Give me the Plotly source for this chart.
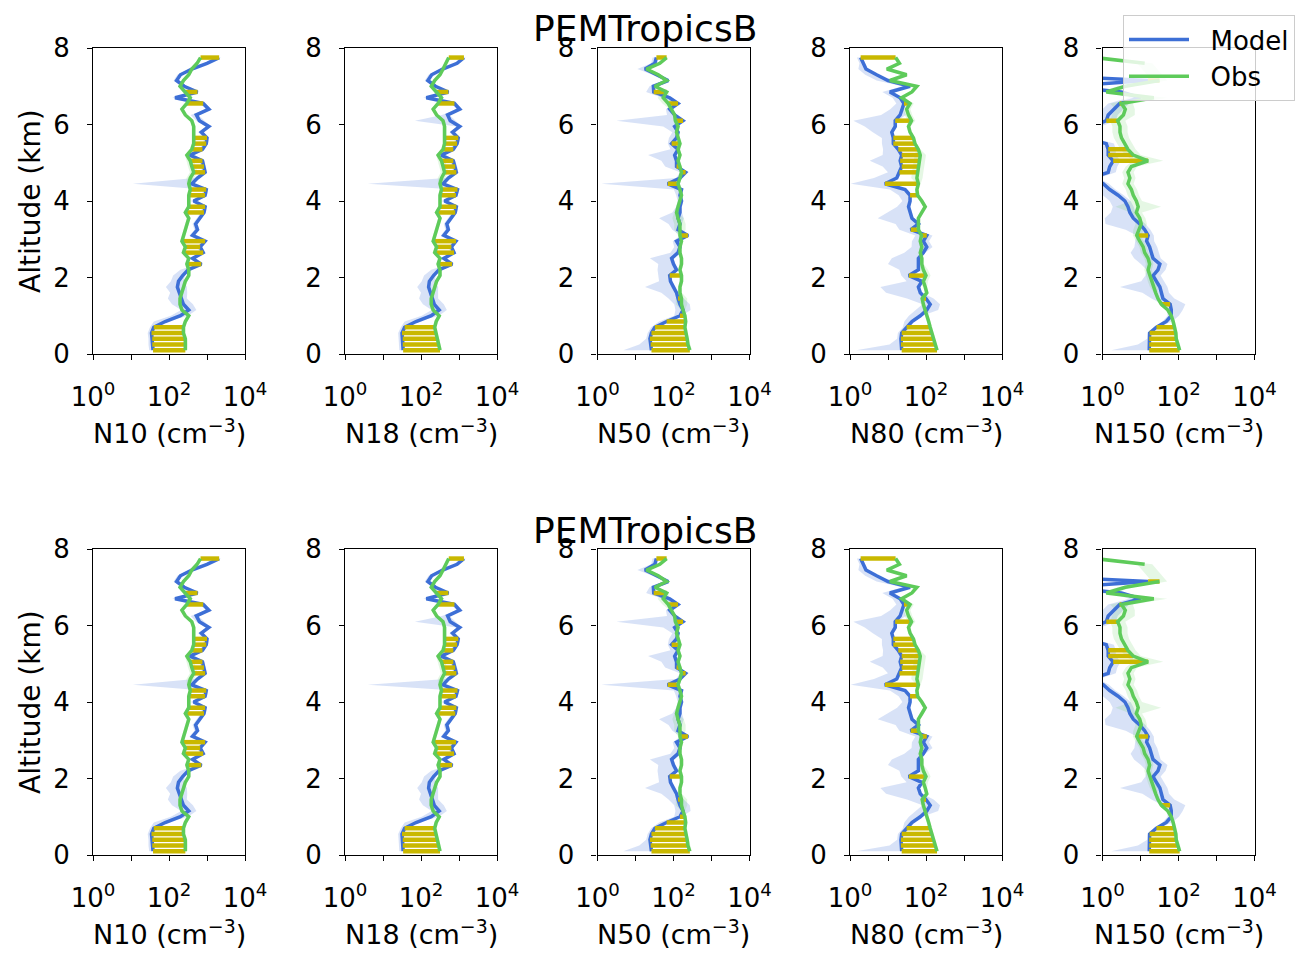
import plotly.graph_objects as go

# ---------------- data (log10 of number concentration, cm^-3) ----------------
ALT = [0.1, 0.25, 0.4, 0.55, 0.7, 0.85, 1.0, 1.15, 1.3, 1.45, 1.6, 1.75, 1.9, 2.05,
       2.2, 2.35, 2.5, 2.65, 2.8, 2.95, 3.1, 3.25, 3.4, 3.55, 3.7, 3.85, 4.0, 4.15,
       4.3, 4.45, 4.6, 4.75, 4.9, 5.05, 5.2, 5.35, 5.5, 5.65, 5.8, 5.95, 6.1, 6.25,
       6.4, 6.55, 6.7, 6.85, 7.0, 7.15, 7.3, 7.45, 7.6, 7.75]

PANEL_LABELS = ["N10", "N18", "N50", "N80", "N150"]
CAMPAIGN = "PEMTropicsB"
X_TICKVALS = [1, 10, 100, 1000, 10000]
X_TICKTEXT = ["10<sup>0</sup>", "", "10<sup>2</sup>", "", "10<sup>4</sup>"]
Y_TICKVALS = [0, 2, 4, 6, 8]

n10_model = [1.58, 1.56, 1.56, 1.54, 1.60, 1.90, 2.30, 2.52, 2.38, 2.32, 2.28, 2.22, 2.25, 2.36,
             2.50, 2.85, 2.62, 2.90, 2.82, 2.95, 2.62, 2.75, 2.70, 2.80, 2.92, 2.95, 2.65, 2.95,
             2.98, 2.60, 2.75, 2.95, 2.92, 2.88, 2.55, 2.88, 2.98, 3.00, 2.85, 3.05, 2.80, 2.72,
             3.05, 2.90, 2.16, 2.75, 2.40, 2.20, 2.30, 2.60, 3.00, 3.32]
n10_obs = [2.43, 2.44, 2.43, 2.38, 2.38, 2.43, 2.52, 2.34, 2.29, 2.29, 2.34, 2.38, 2.43, 2.52,
           2.52, 2.47, 2.52, 2.38, 2.43, 2.34, 2.38, 2.43, 2.47, 2.52, 2.43, 2.52, 2.52, 2.52,
           2.56, 2.52, 2.56, 2.65, 2.60, 2.56, 2.47, 2.60, 2.65, 2.65, 2.65, 2.65, 2.60, 2.43,
           2.34, 2.47, 2.56, 2.43, 2.29, 2.38, 2.52, 2.60, 2.74, 2.83]
n10_model_lo = [0.10, 0.10, 0.10, 0.10, 0.10, 0.30, 0.25, 0.20, 0.30, 0.35, 0.25, 0.30, 0.20, 0.25,
                0.20, 0.08, 0.08, 0.08, 0.08, 0.08, 0.08, 0.08, 0.08, 0.08, 0.08, 0.08, 0.08, 0.08,
                0.08, 1.55, 0.08, 0.08, 0.08, 0.08, 0.08, 0.08, 0.08, 0.08, 0.08, 0.08, 0.08, 0.15,
                0.08, 0.08, 0.08, 0.08, 0.08, 0.08, 0.08, 0.08, 0.08, 0.08]
n10_model_hi = [0.05, 0.05, 0.05, 0.05, 0.05, 0.05, 0.20, 0.20, 0.25, 0.15, 0.20, 0.25, 0.15, 0.05,
                0.05, 0.05, 0.05, 0.05, 0.05, 0.05, 0.05, 0.05, 0.05, 0.05, 0.05, 0.05, 0.05, 0.05,
                0.05, 0.05, 0.05, 0.05, 0.05, 0.05, 0.05, 0.05, 0.05, 0.05, 0.05, 0.05, 0.15, 0.05,
                0.05, 0.05, 0.05, 0.05, 0.05, 0.05, 0.05, 0.05, 0.05, 0.05]
n10_obs_sp = [0.05, 0.05, 0.05, 0.05, 0.05, 0.05, 0.05, 0.05, 0.05, 0.05, 0.05, 0.05, 0.05, 0.05,
              0.05, 0.05, 0.05, 0.05, 0.05, 0.05, 0.05, 0.05, 0.05, 0.05, 0.05, 0.05, 0.05, 0.05,
              0.05, 0.05, 0.10, 0.10, 0.10, 0.10, 0.05, 0.05, 0.05, 0.05, 0.05, 0.05, 0.05, 0.05,
              0.05, 0.05, 0.05, 0.05, 0.05, 0.05, 0.05, 0.05, 0.05, 0.05]
n10_bars = [0.1, 0.25, 0.4, 0.55, 0.7, 2.35, 2.65, 2.8, 2.95, 3.7, 3.85, 4.15, 4.3, 4.75,
            4.9, 5.05, 5.35, 5.5, 5.65, 6.55, 6.85, 7.75]

n18_model = [1.53, 1.52, 1.52, 1.50, 1.57, 1.87, 2.27, 2.48, 2.35, 2.30, 2.25, 2.20, 2.22, 2.33,
             2.47, 2.82, 2.60, 2.87, 2.80, 2.92, 2.60, 2.72, 2.68, 2.78, 2.90, 2.93, 2.62, 2.92,
             2.96, 2.58, 2.72, 2.93, 2.90, 2.85, 2.53, 2.85, 2.95, 2.98, 2.83, 3.02, 2.77, 2.70,
             3.02, 2.88, 2.14, 2.72, 2.38, 2.18, 2.28, 2.57, 2.95, 3.13]
n18_obs = [2.50, 2.46, 2.43, 2.38, 2.36, 2.40, 2.48, 2.32, 2.27, 2.27, 2.32, 2.36, 2.41, 2.50,
           2.50, 2.45, 2.50, 2.36, 2.41, 2.32, 2.36, 2.41, 2.45, 2.50, 2.41, 2.50, 2.50, 2.50,
           2.54, 2.50, 2.54, 2.62, 2.58, 2.54, 2.45, 2.58, 2.62, 2.62, 2.62, 2.62, 2.58, 2.41,
           2.32, 2.45, 2.54, 2.41, 2.27, 2.36, 2.50, 2.58, 2.65, 2.73]
n18_model_lo = [0.10, 0.10, 0.10, 0.10, 0.10, 0.30, 0.25, 0.20, 0.30, 0.35, 0.25, 0.30, 0.20, 0.25,
                0.20, 0.08, 0.08, 0.08, 0.08, 0.08, 0.08, 0.08, 0.08, 0.08, 0.08, 0.08, 0.08, 0.08,
                0.08, 1.98, 0.08, 0.08, 0.08, 0.08, 0.08, 0.08, 0.08, 0.08, 0.08, 0.08, 0.93, 0.15,
                0.08, 0.08, 0.08, 0.08, 0.08, 0.08, 0.08, 0.08, 0.08, 0.08]
n18_model_hi = [0.05, 0.05, 0.05, 0.05, 0.05, 0.05, 0.20, 0.20, 0.25, 0.15, 0.20, 0.25, 0.15, 0.05,
                0.05, 0.05, 0.05, 0.05, 0.05, 0.05, 0.05, 0.05, 0.05, 0.05, 0.05, 0.05, 0.05, 0.05,
                0.05, 0.05, 0.05, 0.05, 0.05, 0.05, 0.05, 0.05, 0.05, 0.05, 0.05, 0.05, 0.15, 0.05,
                0.05, 0.05, 0.05, 0.05, 0.05, 0.05, 0.05, 0.05, 0.05, 0.05]
n18_obs_sp = n10_obs_sp
n18_bars = [0.1, 0.25, 0.4, 0.55, 0.7, 2.35, 2.65, 2.8, 2.95, 3.7, 3.85, 4.15, 4.3, 4.75,
            4.9, 5.05, 5.35, 5.5, 5.65, 6.55, 6.85, 7.75]

n50_model = [1.42, 1.40, 1.38, 1.42, 1.51, 1.82, 2.17, 2.25, 2.17, 2.12, 2.08, 2.00, 1.92, 1.90,
             2.08, 2.00, 1.95, 2.12, 2.17, 2.08, 2.38, 2.12, 2.17, 2.12, 2.17, 2.17, 2.21, 2.17,
             2.21, 1.85, 2.17, 2.32, 2.08, 2.08, 2.03, 2.12, 1.95, 2.08, 2.12, 2.03, 2.25, 2.03,
             1.90, 2.12, 1.90, 1.48, 1.47, 1.86, 1.55, 1.25, 1.51, 1.55]
n50_obs = [2.43, 2.38, 2.36, 2.32, 2.30, 2.32, 2.30, 2.25, 2.21, 2.21, 2.17, 2.17, 2.21, 2.21,
           2.17, 2.21, 2.21, 2.17, 2.17, 2.21, 2.17, 2.17, 2.17, 2.12, 2.08, 2.12, 2.17, 2.21,
           2.17, 2.12, 2.17, 2.21, 2.17, 2.12, 2.17, 2.12, 2.17, 2.12, 2.08, 2.12, 2.05, 2.03,
           1.95, 1.86, 1.73, 1.82, 1.51, 1.82, 1.60, 1.29, 1.64, 1.82]
n50_model_lo = [0.74, 0.30, 0.10, 0.10, 0.10, 0.20, 0.15, 0.20, 0.15, 0.25, 0.40, 0.75, 0.30, 0.30,
                0.50, 0.40, 0.57, 0.20, 0.15, 0.10, 0.20, 0.15, 0.30, 0.50, 0.20, 0.10, 0.10, 0.10,
                0.20, 1.75, 0.10, 0.15, 0.30, 0.40, 0.70, 0.20, 0.10, 0.20, 0.15, 0.30, 1.75, 0.20,
                0.10, 0.10, 0.20, 0.20, 0.10, 0.10, 0.10, 0.20, 0.10, 0.10]
n50_model_hi = [0.05, 0.05, 0.05, 0.05, 0.05, 0.05, 0.05, 0.20, 0.26, 0.15, 0.05, 0.05, 0.05, 0.05,
                0.05, 0.05, 0.05, 0.05, 0.05, 0.05, 0.05, 0.05, 0.05, 0.15, 0.05, 0.05, 0.05, 0.05,
                0.05, 0.05, 0.05, 0.05, 0.05, 0.05, 0.05, 0.05, 0.05, 0.05, 0.05, 0.05, 0.05, 0.05,
                0.05, 0.05, 0.05, 0.05, 0.05, 0.05, 0.05, 0.05, 0.05, 0.05]
n50_obs_sp = [0.05, 0.05, 0.05, 0.05, 0.05, 0.05, 0.05, 0.05, 0.15, 0.15, 0.05, 0.05, 0.05, 0.05,
              0.05, 0.05, 0.05, 0.05, 0.05, 0.05, 0.05, 0.15, 0.15, 0.15, 0.05, 0.05, 0.05, 0.05,
              0.05, 0.05, 0.05, 0.05, 0.05, 0.05, 0.05, 0.05, 0.05, 0.05, 0.05, 0.05, 0.05, 0.05,
              0.05, 0.15, 0.15, 0.05, 0.05, 0.05, 0.05, 0.05, 0.05, 0.05]
n50_bars = [0.1, 0.25, 0.4, 0.55, 0.7, 0.85, 1.0, 1.45, 2.05, 3.1, 4.45, 4.75, 4.9, 5.5,
            6.1, 6.55, 6.85, 7.75]

n80_model = [1.36, 1.34, 1.34, 1.36, 1.49, 1.63, 1.85, 2.02, 2.11, 2.00, 1.85, 1.80, 1.89, 1.55,
             1.80, 1.80, 1.80, 1.93, 2.02, 1.93, 2.02, 1.60, 1.80, 1.63, 1.58, 1.54, 1.58, 1.58,
             1.45, 0.92, 1.23, 1.30, 1.36, 1.32, 1.36, 1.27, 1.14, 1.14, 1.10, 1.19, 1.19, 1.32,
             1.36, 1.42, 1.32, 1.05, 1.58, 1.00, 0.70, 0.42, 0.35, 0.28]
n80_obs = [2.29, 2.24, 2.20, 2.15, 2.11, 2.07, 2.02, 1.98, 1.93, 1.90, 2.02, 1.98, 1.93, 2.00,
           1.93, 1.89, 1.89, 1.85, 1.89, 1.85, 1.88, 1.80, 1.80, 1.80, 1.89, 1.98, 1.89, 1.78,
           1.76, 1.80, 1.76, 1.78, 1.80, 1.82, 1.85, 1.80, 1.71, 1.67, 1.58, 1.54, 1.62, 1.54,
           1.49, 1.58, 1.36, 1.63, 1.76, 1.05, 1.49, 0.97, 1.30, 1.20]
n80_model_lo = [1.20, 0.30, 0.10, 0.10, 0.10, 0.20, 0.30, 0.30, 0.20, 0.50, 0.90, 1.00, 0.40, 0.20,
                0.50, 0.80, 0.70, 0.50, 0.40, 0.30, 0.30, 0.30, 0.60, 0.90, 0.60, 0.30, 0.20, 0.30,
                0.40, 0.90, 0.60, 0.30, 0.50, 0.80, 0.50, 0.40, 0.30, 0.30, 0.50, 0.80, 1.10, 0.50,
                0.30, 0.20, 0.20, 0.20, 0.20, 0.30, 0.30, 0.20, 0.10, 0.10]
n80_model_hi = [0.05, 0.05, 0.05, 0.05, 0.05, 0.05, 0.05, 0.30, 0.26, 0.20, 0.05, 0.05, 0.05, 0.05,
                0.05, 0.05, 0.05, 0.05, 0.15, 0.15, 0.15, 0.05, 0.05, 0.05, 0.05, 0.05, 0.05, 0.05,
                0.05, 0.05, 0.05, 0.05, 0.05, 0.05, 0.05, 0.05, 0.05, 0.05, 0.05, 0.05, 0.05, 0.15,
                0.05, 0.05, 0.05, 0.05, 0.05, 0.05, 0.05, 0.05, 0.05, 0.05]
n80_obs_sp = [0.05, 0.05, 0.05, 0.05, 0.05, 0.05, 0.05, 0.05, 0.05, 0.05, 0.05, 0.05, 0.12, 0.12,
              0.12, 0.05, 0.05, 0.05, 0.05, 0.05, 0.05, 0.05, 0.05, 0.05, 0.05, 0.05, 0.05, 0.05,
              0.05, 0.05, 0.15, 0.15, 0.15, 0.15, 0.15, 0.05, 0.05, 0.05, 0.05, 0.05, 0.10, 0.10,
              0.10, 0.10, 0.05, 0.05, 0.05, 0.05, 0.05, 0.05, 0.05, 0.05]
n80_bars = [0.1, 0.25, 0.4, 0.55, 0.7, 1.45, 2.05, 3.1, 3.25, 4.15, 4.45, 4.75, 4.9, 5.05,
            5.2, 5.35, 5.5, 5.65, 6.1, 6.55, 7.75]

n150_model = [1.23, 1.23, 1.23, 1.24, 1.42, 1.68, 1.81, 1.81, 1.78, 1.59, 1.55, 1.51, 1.42, 1.33,
              1.46, 1.51, 1.33, 1.29, 1.24, 1.16, 1.20, 1.11, 0.98, 0.81, 0.72, 0.67, 0.59, 0.41,
              0.19, 0.02, -0.30, 0.15, 0.19, 0.28, 0.15, 0.15, 0.10, -0.50, -0.50, -0.30, 0.10, 0.15,
              0.30, 0.45, 1.00, 0.50, -1.00, 1.20, -2.00, -2.00, -2.00, -2.00]
n150_obs = [2.03, 1.99, 1.94, 1.93, 1.90, 1.86, 1.81, 1.72, 1.55, 1.46, 1.40, 1.35, 1.29, 1.24,
            1.20, 1.24, 1.20, 1.11, 1.07, 0.98, 0.90, 0.96, 1.02, 0.98, 0.89, 0.94, 0.89, 0.81,
            0.76, 0.67, 0.72, 0.67, 0.76, 1.20, 0.81, 0.67, 0.59, 0.50, 0.46, 0.46, 0.40, 0.55,
            0.60, 0.50, 1.35, 0.10, 0.60, 1.50, None, None, 1.11, -0.20]
n150_model_lo = [1.00, 0.30, 0.05, 0.05, 0.05, 0.10, 0.10, 0.10, 0.20, 0.30, 0.50, 1.05, 0.40, 0.20,
                 0.30, 0.50, 0.50, 0.55, 0.40, 0.30, 0.30, 0.50, 0.90, 0.75, 0.50, 0.40, 0.40, 0.40,
                 0.30, 0.30, 0.30, 0.30, 0.30, 0.30, 0.30, 0.30, 0.30, 0.30, 0.30, 0.30, 0.30, 0.30,
                 0.30, 0.30, 0.30, 0.30, 0.30, 0.30, 0.30, 0.30, 0.30, 0.30]
n150_model_hi = [0.05, 0.05, 0.05, 0.05, 0.05, 0.15, 0.20, 0.30, 0.40, 0.30, 0.20, 0.20, 0.20, 0.20,
                 0.20, 0.20, 0.20, 0.20, 0.20, 0.20, 0.15, 0.15, 0.15, 0.15, 0.15, 0.15, 0.15, 0.15,
                 0.15, 0.15, 0.20, 0.20, 0.20, 0.20, 0.20, 0.20, 0.20, 0.25, 0.25, 0.25, 0.25, 0.25,
                 0.25, 0.25, 0.20, 0.10, 0.10, 0.10, 0.10, 0.10, 0.10, 0.10]
n150_obs_sp = [0.05, 0.05, 0.05, 0.05, 0.05, 0.05, 0.05, 0.05, 0.05, 0.05, 0.05, 0.10, 0.10, 0.10,
               0.10, 0.10, 0.10, 0.10, 0.10, 0.10, 0.10, 0.15, 0.15, 0.15, 0.15, 0.60, 0.15, 0.15,
               0.15, 0.15, 0.15, 0.15, 0.15, 0.40, 0.20, 0.20, 0.20, 0.20, 0.20, 0.20, 0.20, 0.30,
               0.25, 0.30, 0.35, 0.20, 0.20, 0.20, 0.20, 0.20, 0.20, 0.20]
n150_bars = [0.1, 0.25, 0.4, 0.55, 0.7, 1.3, 3.1, 5.05, 5.2, 5.35, 6.1, 6.55, 7.15]

PANELS = [
    (n10_model, n10_obs, n10_model_lo, n10_model_hi, n10_obs_sp, n10_bars),
    (n18_model, n18_obs, n18_model_lo, n18_model_hi, n18_obs_sp, n18_bars),
    (n50_model, n50_obs, n50_model_lo, n50_model_hi, n50_obs_sp, n50_bars),
    (n80_model, n80_obs, n80_model_lo, n80_model_hi, n80_obs_sp, n80_bars),
    (n150_model, n150_obs, n150_model_lo, n150_model_hi, n150_obs_sp, n150_bars),
]

# ---------------- styling ----------------
# The page body has an 8 px margin, so the figure is 16 px smaller than the window
# and every window-pixel position below is shifted by that 8 px offset.
WIN_W, WIN_H = 1309, 958
OFF = 8
W, H = WIN_W - 2 * OFF, WIN_H - 2 * OFF
FONT = "DejaVu Sans"
BLUE = "#3d6fd6"
GREEN = "#5ecb5a"
YELLOW = "#c9b800"
BLUE_FILL = "rgba(61,111,214,0.20)"
GREEN_FILL = "rgba(94,203,90,0.16)"

COL_LEFT = [93, 345, 597.5, 850, 1102.5]   # window px
PANEL_W = 152
ROWS = [(48, 354), (549, 855)]             # window px (top, bottom)


def px_x(p):
    return (p - OFF) / W


def px_y(p):
    return 1 - (p - OFF) / H


fig = go.Figure()
layout_axes = {}

for r, (top, bot) in enumerate(ROWS):
    for c in range(5):
        k = r * 5 + c + 1
        xa = "x" if k == 1 else f"x{k}"
        ya = "y" if k == 1 else f"y{k}"
        model, obs, mlo, mhi, osp, bars = PANELS[c]

        # model band
        lo = [10 ** (m - d) for m, d in zip(model, mlo)]
        hi = [10 ** (m + d) for m, d in zip(model, mhi)]
        fig.add_trace(go.Scatter(x=lo + hi[::-1], y=ALT + ALT[::-1], fill="toself",
                                 fillcolor=BLUE_FILL, mode="lines", line=dict(width=0, color=BLUE_FILL),
                                 hoverinfo="skip", showlegend=False, xaxis=xa, yaxis=ya))
        # obs band
        pts = [(a, o, s) for a, o, s in zip(ALT, obs, osp) if o is not None]
        olo = [10 ** (o - s) for a, o, s in pts]
        ohi = [10 ** (o + s) for a, o, s in pts]
        oal = [a for a, o, s in pts]
        fig.add_trace(go.Scatter(x=olo + ohi[::-1], y=oal + oal[::-1], fill="toself",
                                 fillcolor=GREEN_FILL, mode="lines", line=dict(width=0, color=GREEN_FILL),
                                 hoverinfo="skip", showlegend=False, xaxis=xa, yaxis=ya))
        # model line
        fig.add_trace(go.Scatter(x=[10 ** m for m in model], y=ALT, mode="lines",
                                 line=dict(color=BLUE, width=3.5), name="\u00a0\u00a0Model",
                                 showlegend=(k == 1), legendrank=1, xaxis=xa, yaxis=ya))
        # difference bars
        bx, by = [], []
        for a in bars:
            i = ALT.index(a)
            if obs[i] is None:
                continue
            bx += [10 ** model[i], 10 ** obs[i], None]
            by += [a, a, None]
        fig.add_trace(go.Scatter(x=bx, y=by, mode="lines", line=dict(color=YELLOW, width=4.5),
                                 hoverinfo="skip", showlegend=False, xaxis=xa, yaxis=ya))
        # obs line
        fig.add_trace(go.Scatter(x=[10 ** o if o is not None else None for o in obs], y=ALT,
                                 mode="lines", line=dict(color=GREEN, width=3.5), name="\u00a0\u00a0Obs",
                                 connectgaps=False, showlegend=(k == 1), legendrank=2,
                                 xaxis=xa, yaxis=ya))

        xd = [px_x(COL_LEFT[c]), px_x(COL_LEFT[c] + PANEL_W)]
        yd = [px_y(bot), px_y(top)]
        axis_common = dict(showline=True, mirror=True, linecolor="black", linewidth=1.2,
                           ticks="outside", ticklen=5, tickwidth=1.2, tickcolor="black",
                           showgrid=False, zeroline=False, automargin=False,
                           tickfont=dict(family=FONT, size=26, color="black"))
        layout_axes["xaxis" if k == 1 else f"xaxis{k}"] = dict(
            axis_common, type="log", range=[0, 4], tickvals=X_TICKVALS, ticktext=X_TICKTEXT,
            domain=xd, anchor=ya, ticklabelstandoff=15)
        layout_axes["yaxis" if k == 1 else f"yaxis{k}"] = dict(
            axis_common, range=[0, 8], tickvals=Y_TICKVALS, domain=yd, anchor=xa,
            ticklabelstandoff=12)

annotations = []
for r, (top, bot) in enumerate(ROWS):
    annotations.append(dict(text=CAMPAIGN, x=px_x(645), y=px_y(top - 19), xref="paper", yref="paper",
                            showarrow=False, xanchor="center", yanchor="middle",
                            font=dict(family=FONT, size=36, color="black")))
    annotations.append(dict(text="Altitude (km)", x=px_x(30), y=px_y((top + bot) / 2), xref="paper",
                            yref="paper", showarrow=False, textangle=-90, xanchor="center",
                            yanchor="middle", font=dict(family=FONT, size=28, color="black")))
    for c in range(5):
        annotations.append(dict(text=f"{PANEL_LABELS[c]} (cm<sup>−3</sup>)",
                                x=px_x(COL_LEFT[c] + PANEL_W / 2), y=px_y(bot + 77),
                                xref="paper", yref="paper", showarrow=False,
                                xanchor="center", yanchor="middle",
                                font=dict(family=FONT, size=27, color="black")))

fig.update_layout(
    width=W, height=H, margin=dict(l=0, r=0, t=0, b=0, autoexpand=False),
    paper_bgcolor="white", plot_bgcolor="white",
    font=dict(family=FONT, color="black"),
    annotations=annotations,
    legend=dict(x=px_x(1123), y=px_y(15), xanchor="left", yanchor="top",
                bgcolor="rgba(255,255,255,0.8)", bordercolor="#cccccc", borderwidth=1,
                font=dict(family=FONT, size=26, color="black"), itemwidth=60,
                traceorder="normal"),
    **layout_axes,
)

fig.write_html("out.html")
